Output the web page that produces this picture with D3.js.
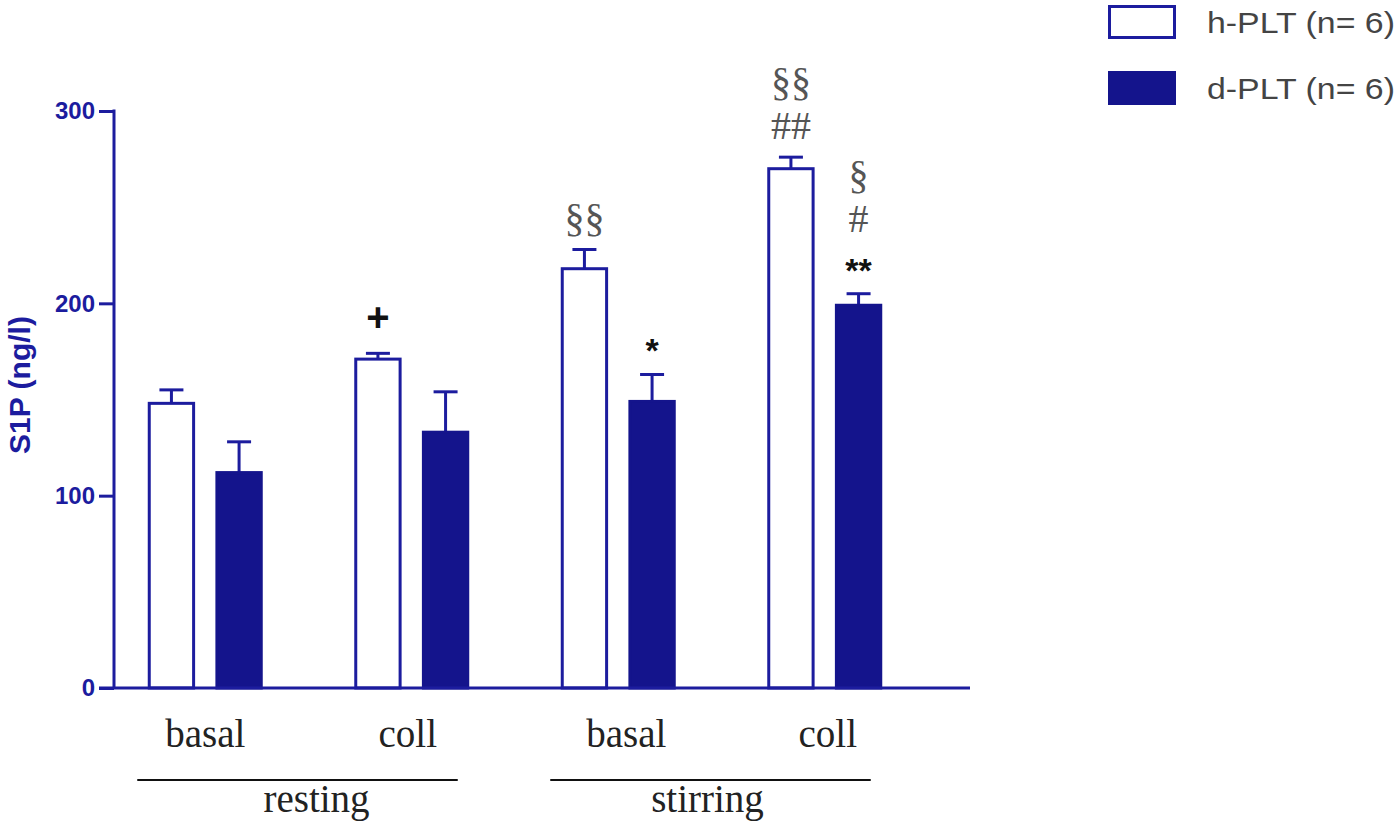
<!DOCTYPE html>
<html>
<head>
<meta charset="utf-8">
<script src="https://cdn.jsdelivr.net/npm/d3@7"></script>
<style>
  body { margin: 0; background: #fff; }
</style>
</head>
<body>
<div class="canvas"></div>
<script>
// data
const categories = ['resting basal', 'resting coll', 'stirring basal', 'stirring coll']
const catLabels = ['basal', 'coll', 'basal', 'coll']
const series = ['h-PLT (n= 6)', 'd-PLT (n= 6)']
const hMeans = [148, 171, 218, 270]
const hErrors = [7, 3, 10, 6]
const dMeans = [112, 133, 149, 199]
const dErrors = [16, 21, 14, 6]
const yTicks = [0, 100, 200, 300]
const groups = [
  { name: 'resting', cats: [0, 1] },
  { name: 'stirring', cats: [2, 3] }
]
// significance marks, bottom line last
const marks = [
  { cat: 1, s: 0, lines: ['+'], sans: true },
  { cat: 2, s: 0, lines: ['§§'] },
  { cat: 2, s: 1, lines: ['*'], sans: true },
  { cat: 3, s: 0, lines: ['§§', '##'] },
  { cat: 3, s: 1, lines: ['§', '#', '**'], lastSans: true }
]

const blue = '#1c1c9e'
const fillDark = '#14148c'
const sansFont = 'Liberation Sans, Arial, sans-serif'
const serif = 'Liberation Serif, Times New Roman, serif'

const svg = d3.select('.canvas')
  .append('svg')
  .attr('width', 1400)
  .attr('height', 830)

const y = d3.scaleLinear()
  .domain([0, 300])
  .range([688, 111])

const x = d3.scaleBand()
  .domain(categories)
  .range([102, 928])

const x1 = d3.scaleBand()
  .domain(series)
  .range([-57.5, 57.5])
  .paddingInner(0.3)

const rows = []
categories.forEach((c, i) => {
  rows.push({ cat: c, s: series[0], mean: hMeans[i], err: hErrors[i], dark: false })
  rows.push({ cat: c, s: series[1], mean: dMeans[i], err: dErrors[i], dark: true })
})

const cx = c => x(c) + x.bandwidth() / 2

// error bars (upper only), drawn under bars
const errs = svg.append('g')
rows.forEach(r => {
  const mx = cx(r.cat) + x1(r.s) + x1.bandwidth() / 2
  errs.append('line')
    .attr('x1', mx).attr('x2', mx)
    .attr('y1', y(r.mean)).attr('y2', y(r.mean + r.err))
    .attr('stroke', blue).attr('stroke-width', 3)
  errs.append('line')
    .attr('x1', mx - 12).attr('x2', mx + 12)
    .attr('y1', y(r.mean + r.err)).attr('y2', y(r.mean + r.err))
    .attr('stroke', blue).attr('stroke-width', 3)
})

// bars
svg.append('g')
  .selectAll('rect')
  .data(rows)
  .enter()
  .append('rect')
    .attr('x', d => cx(d.cat) + x1(d.s) + 1.5)
    .attr('y', d => y(d.mean))
    .attr('width', x1.bandwidth() - 3)
    .attr('height', d => y(0) - y(d.mean))
    .attr('fill', d => d.dark ? fillDark : '#fff')
    .attr('stroke', d => d.dark ? fillDark : blue)
    .attr('stroke-width', 3)

// y axis
const yAxis = d3.axisLeft(y)
  .tickValues(yTicks)
  .tickSize(15)
  .tickPadding(4)
const gy = svg.append('g')
  .attr('transform', 'translate(114, 0)')
  .call(yAxis)
gy.select('.domain').remove()
gy.selectAll('.tick line').attr('stroke', blue).attr('stroke-width', 3)
gy.selectAll('.tick text')
  .attr('fill', blue)
  .attr('font-family', sansFont)
  .attr('font-weight', 'bold')
  .attr('font-size', 24)
svg.append('line')
  .attr('x1', 114).attr('x2', 114)
  .attr('y1', y(300) - 1.5).attr('y2', y(0))
  .attr('stroke', blue).attr('stroke-width', 3)
svg.append('line')
  .attr('x1', 99).attr('x2', 970)
  .attr('y1', y(0)).attr('y2', y(0))
  .attr('stroke', blue).attr('stroke-width', 3)

svg.append('text')
  .attr('transform', 'translate(30, 385) rotate(-90)')
  .attr('text-anchor', 'middle')
  .attr('fill', blue)
  .attr('font-family', sansFont)
  .attr('font-weight', 'bold')
  .attr('font-size', 30)
  .text('S1P (ng/l)')

// category labels
const catDx = [0, -4, 8, 3]
svg.append('g')
  .selectAll('text')
  .data(categories)
  .enter()
  .append('text')
    .attr('x', (d, i) => cx(d) + catDx[i])
    .attr('y', 747)
    .attr('text-anchor', 'middle')
    .attr('fill', '#222')
    .attr('font-family', serif)
    .attr('font-size', 39)
    .text((d, i) => catLabels[i])

// group lines + labels
const groupDx = [8, -14]
groups.forEach((g, gi) => {
  const a = cx(categories[g.cats[0]])
  const b = cx(categories[g.cats[1]])
  svg.append('line')
    .attr('x1', a - 68).attr('x2', b + 46)
    .attr('y1', 780).attr('y2', 780)
    .attr('stroke', '#111').attr('stroke-width', 2)
  svg.append('text')
    .attr('x', (a + b) / 2 + groupDx[gi])
    .attr('y', 812)
    .attr('text-anchor', 'middle')
    .attr('fill', '#222')
    .attr('font-family', serif)
    .attr('font-size', 39)
    .text(g.name)
})

// significance marks
marks.forEach(m => {
  const r = rows.find(d => d.cat === categories[m.cat] && d.s === series[m.s])
  const mx = cx(r.cat) + x1(r.s) + x1.bandwidth() / 2
  const base = y(r.mean + r.err) - 18
  const n = m.lines.length
  m.lines.forEach((t, i) => {
    const sans = m.sans || (m.lastSans && i === n - 1)
    const plus = t === '+'
    svg.append('text')
      .attr('x', mx)
      .attr('y', base - (n - 1 - i) * 44 + (plus ? -4 : sans ? 6 : 0))
      .attr('text-anchor', 'middle')
      .attr('fill', sans ? '#111' : '#555')
      .attr('font-family', sans ? sansFont : serif)
      .attr('font-weight', sans ? 'bold' : 'normal')
      .attr('font-size', plus ? 40 : sans ? 34 : 40)
      .text(t)
  })
})

// legend
const legend = svg.append('g')
series.forEach((s, i) => {
  legend.append('rect')
    .attr('x', 1109.5).attr('y', 6.5 + i * 66)
    .attr('width', 65).attr('height', 31)
    .attr('fill', i ? fillDark : '#fff')
    .attr('stroke', i ? fillDark : blue)
    .attr('stroke-width', 3)
  legend.append('text')
    .attr('x', 1207).attr('y', 33 + i * 66)
    .attr('fill', '#444')
    .attr('font-family', sansFont)
    .attr('font-size', 30)
    .attr('textLength', 188)
    .attr('lengthAdjust', 'spacingAndGlyphs')
    .text(s)
})
</script>
</body>
</html>
